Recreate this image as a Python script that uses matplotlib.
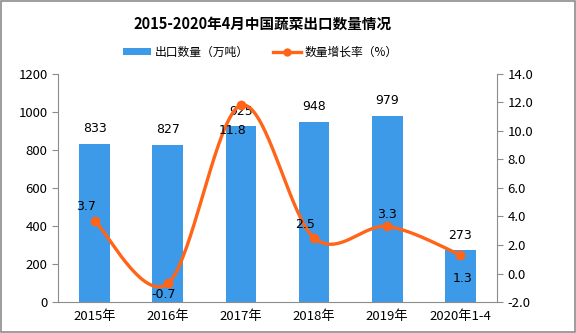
import numpy as np
import matplotlib.pyplot as plt
from matplotlib.patches import Rectangle

plt.rcParams['font.family'] = ['Noto Sans CJK SC', 'DejaVu Sans']

years = ['2015年', '2016年', '2017年', '2018年', '2019年', '2020年1-4']
export = [833, 827, 925, 948, 979, 273]
growth = [3.7, -0.7, 11.8, 2.5, 3.3, 1.3]

bar_color = '#3d9ae8'
line_color = '#ff6418'


def catmull_rom(xs, ys, n=40):
    # smooth curve through every point, tangents from neighbours
    xs = np.asarray(xs, float)
    ys = np.asarray(ys, float)
    px = np.concatenate([[xs[0]], xs, [xs[-1]]])
    py = np.concatenate([[ys[0]], ys, [ys[-1]]])
    outx, outy = [], []
    for i in range(1, len(px) - 2):
        t = np.linspace(0, 1, n)
        t2, t3 = t * t, t * t * t
        h00 = 2 * t3 - 3 * t2 + 1
        h10 = t3 - 2 * t2 + t
        h01 = -2 * t3 + 3 * t2
        h11 = t3 - t2
        mx0 = (px[i + 1] - px[i - 1]) / 2
        mx1 = (px[i + 2] - px[i]) / 2
        my0 = (py[i + 1] - py[i - 1]) / 2
        my1 = (py[i + 2] - py[i]) / 2
        outx.append(h00 * px[i] + h10 * mx0 + h01 * px[i + 1] + h11 * mx1)
        outy.append(h00 * py[i] + h10 * my0 + h01 * py[i + 1] + h11 * my1)
    return np.concatenate(outx), np.concatenate(outy)


fig = plt.figure(figsize=(5.76, 3.33), dpi=100)
fig.patches.append(Rectangle((0.001, 0.002), 0.997, 0.995, transform=fig.transFigure,
                             fill=False, edgecolor='#8c8c8c', linewidth=1.2))
ax = fig.add_axes([0.1007, 0.093, 0.7622, 0.685])
x = np.arange(len(years))

bars = ax.bar(x, export, width=0.42, color=bar_color, label='出口数量（万吨）', zorder=2)
ax.set_ylim(0, 1200)
ax.set_yticks(range(0, 1201, 200))
ax.set_xlim(-0.5, len(years) - 0.5)
ax.set_xticks(x)
ax.set_xticklabels(years)
for xi, v in zip(x, export):
    ax.text(xi, v + 45, str(v), ha='center', va='bottom', fontsize=9, family='DejaVu Sans')

ax2 = ax.twinx()
sx, sy = catmull_rom(x, growth)
ax2.plot(sx, sy, color=line_color, linewidth=2.4, zorder=3)
ax2.plot(x, growth, 'o', color=line_color, markersize=6, zorder=4)
ax2.set_ylim(-2, 14)
ax2.set_yticks(np.arange(-2, 14.1, 2))
ax2.set_yticklabels(['%.1f' % t for t in np.arange(-2, 14.1, 2)])

offsets = [(-0.12, 0.55), (-0.05, -1.2), (-0.12, -2.2), (-0.12, 0.5), (0.0, 0.4), (0.03, -2.1)]
for xi, v, (dx, dy) in zip(x, growth, offsets):
    ax2.text(xi + dx, v + dy, '%.1f' % v, ha='center', va='bottom', fontsize=9,
             family='DejaVu Sans', zorder=5)

for a in (ax, ax2):
    for s in a.spines.values():
        s.set_visible(False)
    a.tick_params(colors='#8c8c8c', labelcolor='black', labelsize=9.5, length=4)
ax.spines['left'].set_visible(True)
ax.spines['bottom'].set_visible(True)
ax2.spines['right'].set_visible(True)
for s in (ax.spines['left'], ax.spines['bottom'], ax2.spines['right']):
    s.set_color('#8c8c8c')
ax.tick_params(axis='x', length=0, pad=6)

fig.text(0.455, 0.93, '2015-2020年4月中国蔬菜出口数量情况', ha='center', va='center',
         fontsize=10.5, fontweight='bold')

line_handle = plt.Line2D([], [], color=line_color, linewidth=2.4, marker='o', markersize=5)
fig.legend([bars, line_handle], ['出口数量（万吨）', '数量增长率（%）'], loc='center',
           bbox_to_anchor=(0.452, 0.843), ncol=2, frameon=False, fontsize=8.5,
           handlelength=2.4, handleheight=0.5, columnspacing=2.0, handletextpad=0.3)

fig.savefig('out.png', dpi=100)
